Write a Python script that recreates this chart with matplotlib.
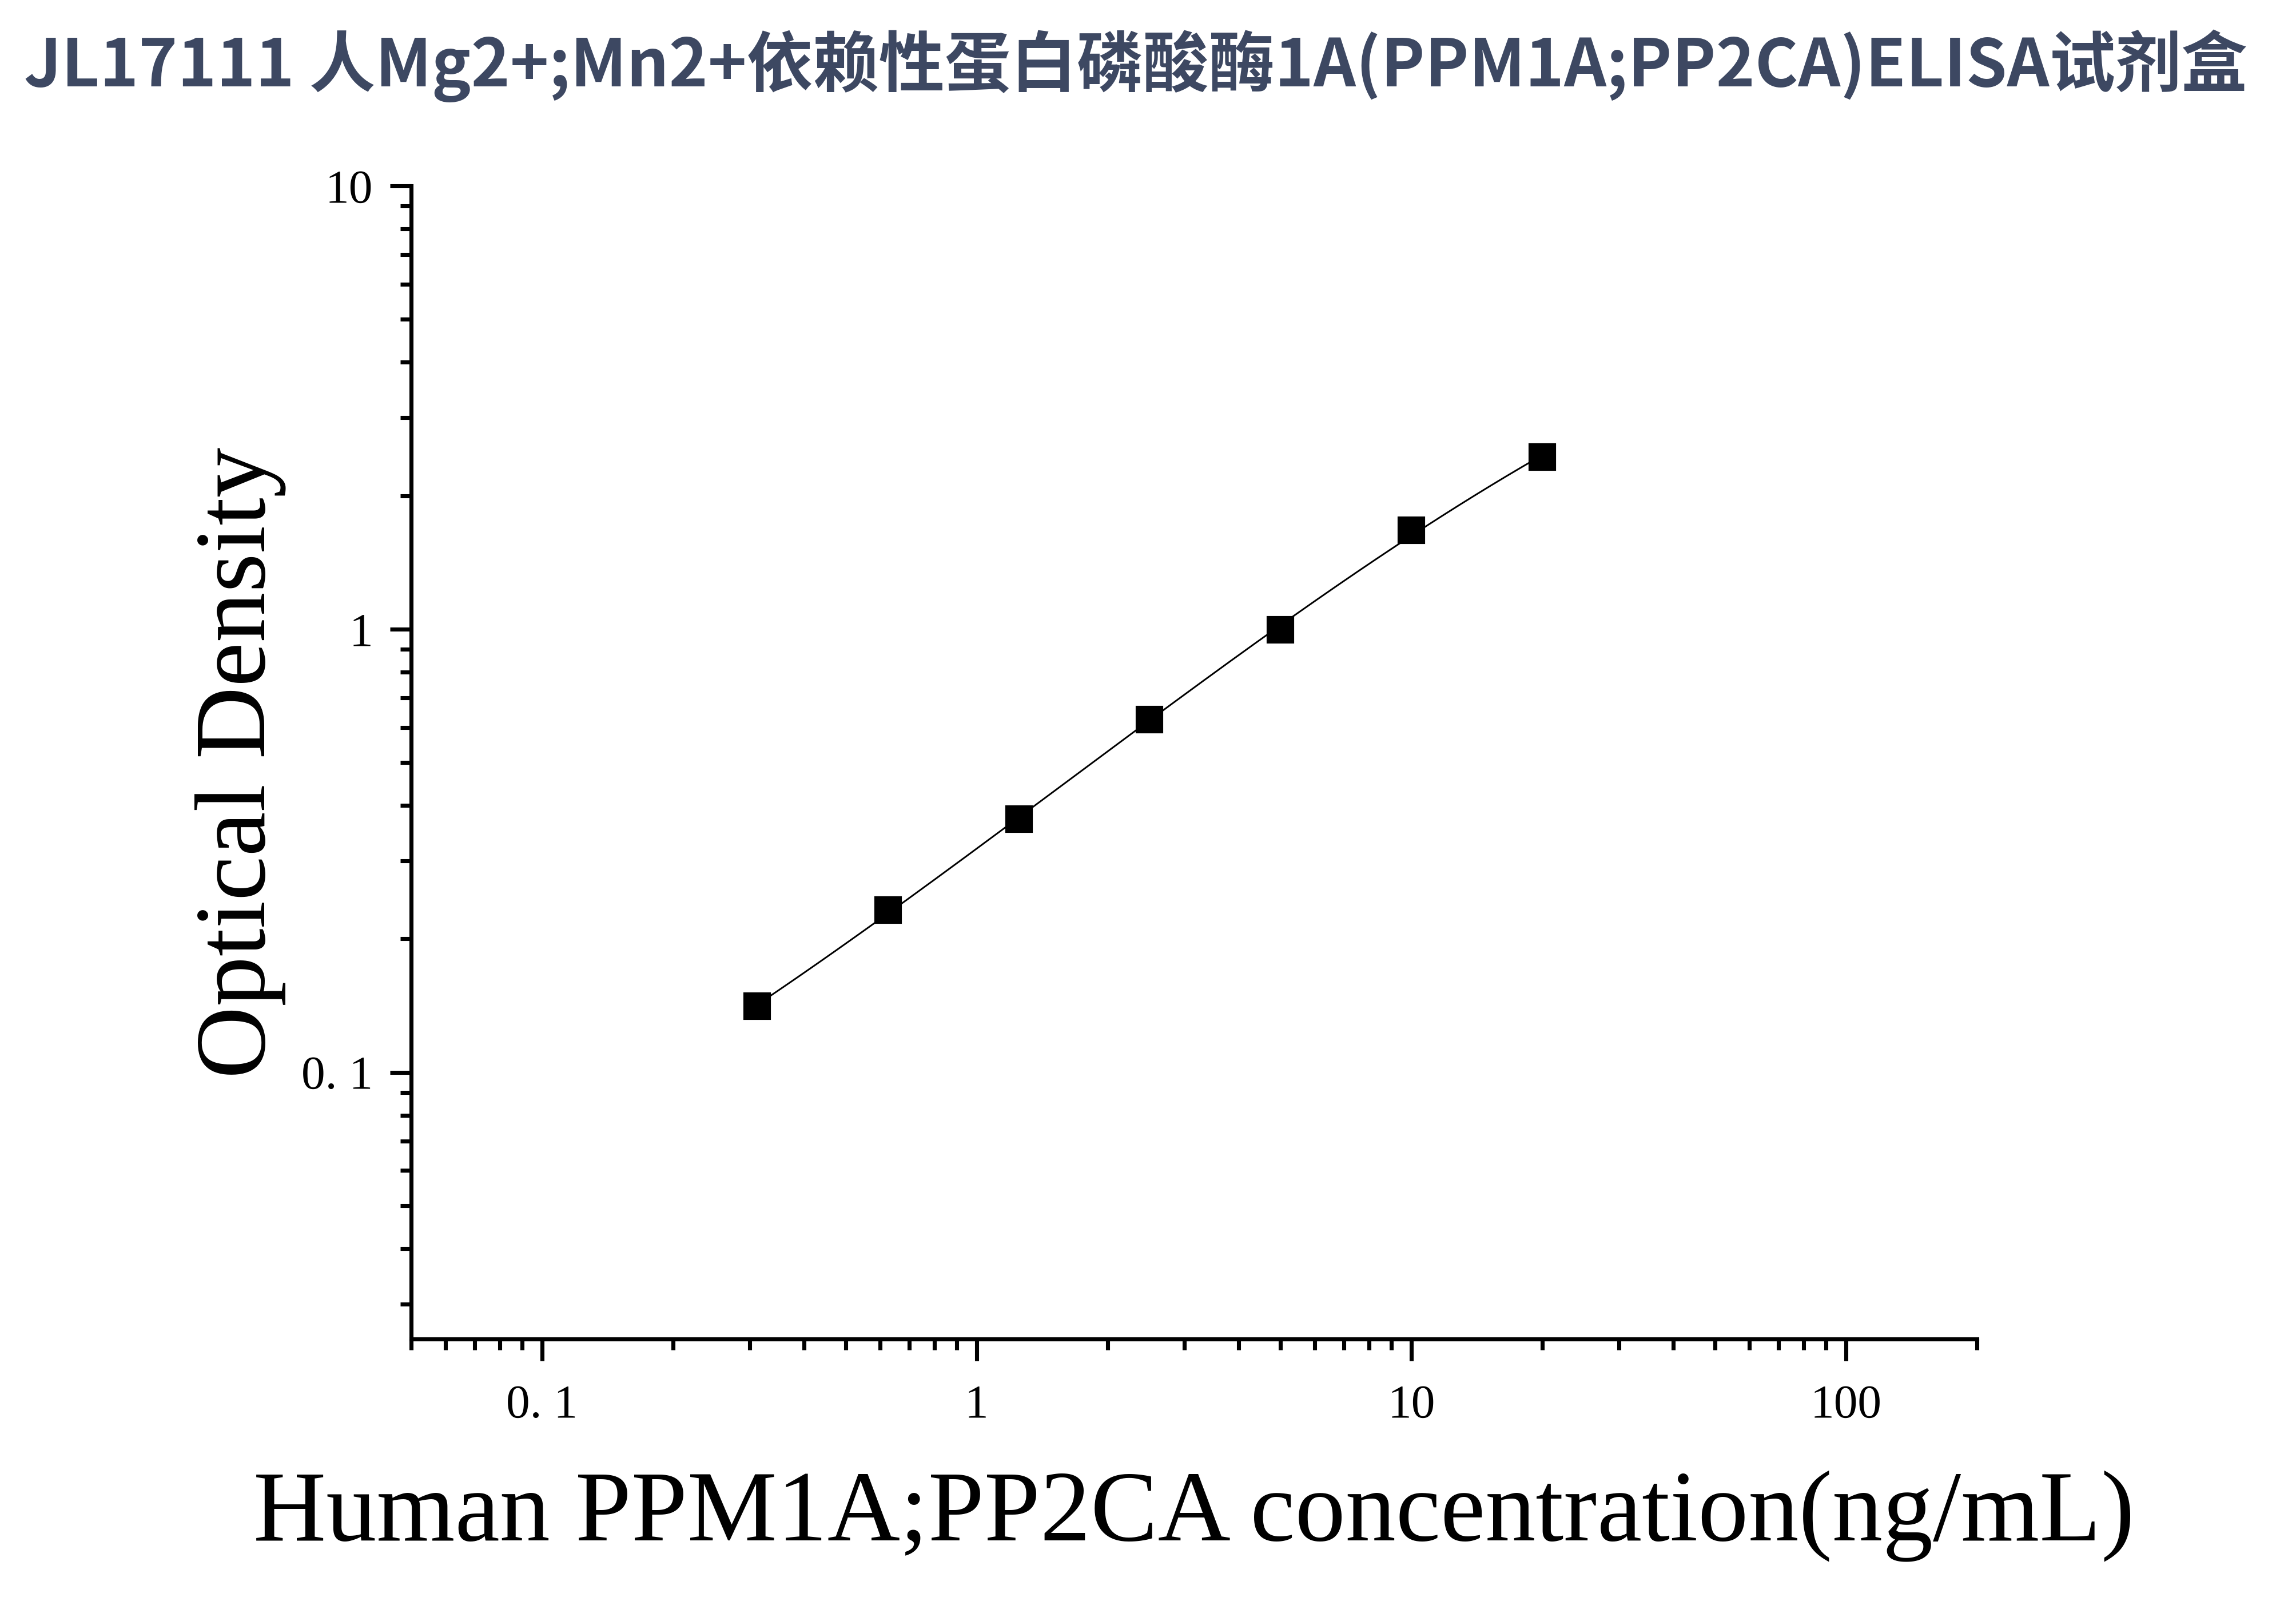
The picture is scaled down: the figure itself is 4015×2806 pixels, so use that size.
import matplotlib
matplotlib.use("Agg")
import matplotlib.pyplot as plt
import matplotlib.ticker as ticker
import numpy as np

# Standard curve
concentration = [0.3125, 0.625, 1.25, 2.5, 5, 10, 20]
optical_density = [0.141, 0.232, 0.373, 0.624, 0.997, 1.671, 2.443]

x_ticks = [0.1, 1, 10, 100]
x_tick_labels = ['0. 1', '1', '10', '100']
y_ticks = [0.1, 1, 10]
y_tick_labels = ['0. 1', '1', '10']

title = 'JL17111 人Mg2+;Mn2+依赖性蛋白磷酸酶1A(PPM1A;PP2CA)ELISA试剂盒'
x_label = 'Human PPM1A;PP2CA concentration(ng/mL)'
y_label = 'Optical Density'

serif = ['Liberation Serif', 'DejaVu Serif']

fig = plt.figure(figsize=(4015 / 300, 2806 / 300), dpi=300)
ax = fig.add_axes([0.1791, 0.1657, 0.8610 - 0.1791, 0.8842 - 0.1657])

# smooth fitted curve in log-log space
lx = np.log10(concentration)
ly = np.log10(optical_density)
coef = np.polyfit(lx, ly, 3)
fit_x = np.linspace(lx[0], lx[-1], 200)
ax.plot(10 ** fit_x, 10 ** np.polyval(coef, fit_x), color='black', lw=0.7, zorder=2)
ax.plot(concentration, optical_density, 's', color='black', markersize=10.5, zorder=3)

ax.set_xscale('log')
ax.set_yscale('log')
ax.set_xlim(0.05, 200)
ax.set_ylim(0.025, 10)

ax.spines['top'].set_visible(False)
ax.spines['right'].set_visible(False)
for side in ['left', 'bottom']:
    ax.spines[side].set_linewidth(1.7)

ax.xaxis.set_major_locator(ticker.FixedLocator(x_ticks))
ax.yaxis.set_major_locator(ticker.FixedLocator(y_ticks))
ax.xaxis.set_minor_locator(ticker.LogLocator(base=10, subs=np.arange(2, 10)))
ax.yaxis.set_minor_locator(ticker.LogLocator(base=10, subs=np.arange(2, 10)))
ax.xaxis.set_minor_formatter(ticker.NullFormatter())
ax.yaxis.set_minor_formatter(ticker.NullFormatter())
ax.set_xticklabels(x_tick_labels, family=serif, fontsize=20)
ax.set_yticklabels(y_tick_labels, family=serif, fontsize=20)
ax.tick_params(which='major', direction='out', length=9, width=1.7)
ax.tick_params(which='minor', direction='out', length=4.5, width=1.7)
ax.tick_params(axis='x', which='major', pad=10)
ax.tick_params(axis='y', which='major', pad=7)

ax.set_xlabel(x_label, family=serif, fontsize=42.3, labelpad=18)
ax.set_ylabel(y_label, family=serif, fontsize=42, labelpad=6.5)

fig.text(0.4945, 0.959, title, ha='center', va='center', fontsize=27.7,
         fontweight='bold', color='#3d4862',
         family=['Noto Sans CJK SC', 'DejaVu Sans'])

fig.savefig('out.png', dpi=300)
